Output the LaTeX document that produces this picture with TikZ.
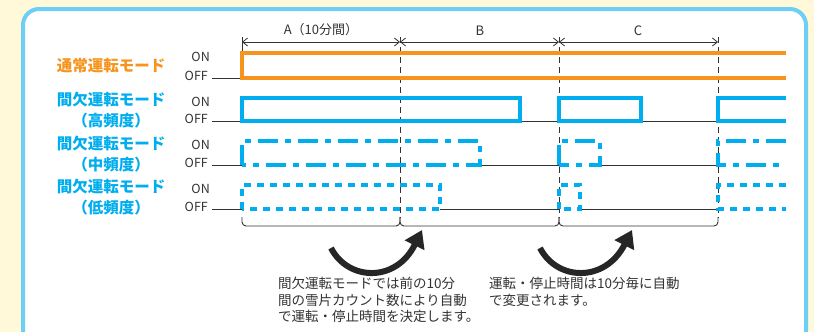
\documentclass[tikz,border=0pt]{standalone}
\usepackage{fontspec}
\setmainfont{Noto Sans CJK JP}
\usepackage{xcolor}
\usepackage{tikz}
\usetikzlibrary{arrows.meta}
\definecolor{paleCream}{HTML}{FFF9DA}
\definecolor{frameBlue}{HTML}{6DCFF6}
\definecolor{modeOrange}{HTML}{F7941D}
\definecolor{modeBlue}{HTML}{00AEEF}
\definecolor{inkGray}{HTML}{333333}

\begin{document}
\begin{tikzpicture}[x=1pt, y=-1pt, every node/.style={text=inkGray, inner sep=0pt, font=\fontsize{13}{16}\selectfont},
        modelabel/.style={font=\fontsize{15.5}{21}\selectfont\bfseries, align=center},
        level/.style={anchor=east, font=\fontsize{12.5}{14}\selectfont},
        note/.style={anchor=north west, align=left, font=\fontsize{13.5}{16.5}\selectfont},
        pulse/.style={line width=4pt, line join=miter},
        offline/.style={draw=inkGray, line width=0.9pt},
        period/.style={draw=inkGray, line width=0.9pt, dash pattern=on 6pt off 4pt},
        span/.style={draw=inkGray, line width=0.8pt, {Straight Barb[length=5pt,width=8pt]}-{Straight Barb[length=5pt,width=8pt]}},
        midpat/.style={dash pattern=on 20pt off 7pt on 6pt off 7pt},
        lowpat/.style={dash pattern=on 7pt off 6pt},
        turn/.style={draw=black!85, line width=6pt, -{Triangle[length=17pt,width=21pt]}}]

        \fill[paleCream] (0,0) rectangle (814,332);
        \useasboundingbox (0,0) rectangle (814,332);
        \clip (0,0) rectangle (814,332);
        \draw[frameBlue, line width=4pt, fill=white, rounded corners=16pt] (23,9) rectangle (806,346);

        \node (spanA) at (321,30) {A（10分間）};
        \node (spanB) at (480,31) {B};
        \node (spanC) at (638,31) {C};
        \draw[span] (242,42) -- (400,42);
        \draw[span] (400,42) -- (559,42);
        \draw[span] (559,42) -- (718,42);
        \draw[offline] (242,37) -- (242,53);
        \draw[period] (400,37) -- (400,218);
        \draw[period] (559,37) -- (559,218);
        \draw[period] (718,37) -- (718,218);

        \node[modelabel, text=modeOrange] (normal) at (111,66) {通常運転モード};
        \node[modelabel, text=modeBlue] (high) at (111,110.5) {間欠運転モード\\（高頻度）};
        \node[modelabel, text=modeBlue] (mid) at (111,154.5) {間欠運転モード\\（中頻度）};
        \node[modelabel, text=modeBlue] (low) at (111,197.5) {間欠運転モード\\（低頻度）};

        \node[level] (on1) at (210,57) {ON};
        \node[level] (off1) at (208,76) {OFF};
        \node[level] (on2) at (210,102) {ON};
        \node[level] (off2) at (208,119) {OFF};
        \node[level] (on3) at (210,145) {ON};
        \node[level] (off3) at (208,163) {OFF};
        \node[level] (on4) at (210,189) {ON};
        \node[level] (off4) at (208,207) {OFF};

        \draw[offline] (212,78) -- (242,78);
        \draw[offline] (212,121) -- (242,121);
        \draw[offline] (520,121) -- (559,121);
        \draw[offline] (641,121) -- (718,121);
        \draw[offline] (212,165) -- (242,165);
        \draw[offline] (480,165) -- (559,165);
        \draw[offline] (600,165) -- (718,165);
        \draw[offline] (212,209) -- (242,209);
        \draw[offline] (440,209) -- (559,209);
        \draw[offline] (580,209) -- (718,209);

        \draw[pulse, modeOrange] (786,53) -- (242,53) -- (242,78) -- (786,78);

        \draw[pulse, modeBlue] (242,121) rectangle (520,98);
        \draw[pulse, modeBlue] (559,121) rectangle (641,98);
        \draw[pulse, modeBlue] (786,98) -- (718,98) -- (718,121) -- (786,121);

        \draw[pulse, modeBlue, midpat] (242,165) rectangle (480,141);
        \draw[pulse, modeBlue, midpat] (559,165) rectangle (600,141);
        \draw[pulse, modeBlue, midpat] (786,141) -- (718,141) -- (718,165) -- (786,165);

        \draw[pulse, modeBlue, lowpat] (242,209) rectangle (440,185);
        \draw[pulse, modeBlue, lowpat] (559,209) rectangle (580,185);
        \draw[pulse, modeBlue, lowpat] (786,185) -- (718,185) -- (718,209) -- (786,209);

        \draw[offline, rounded corners=4pt] (242,217) -- (242,226) -- (400,226) -- (400,217);
        \draw[offline, rounded corners=4pt] (400,217) -- (400,226) -- (559,226) -- (559,217);
        \draw[offline, rounded corners=4pt] (559,217) -- (559,226) -- (718,226) -- (718,217);

        \draw[turn] (331,248) .. controls (348,281) and (396,283) .. (422,230);
        \draw[turn] (540,248) .. controls (557,281) and (605,283) .. (632,230);

        \node[note] (note1) at (278,277) {間欠運転モードでは前の10分\\間の雪片カウント数により自動\\で運転・停止時間を決定します。};
        \node[note] (note2) at (489,277) {運転・停止時間は10分毎に自動\\で変更されます。};
    \end{tikzpicture}
\end{document}
